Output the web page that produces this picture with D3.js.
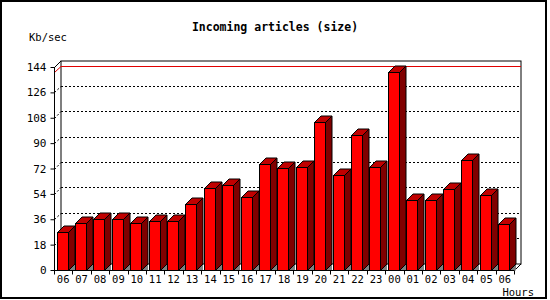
<!DOCTYPE html>
<html>
<head>
<meta charset="utf-8">
<script src="https://cdn.jsdelivr.net/npm/d3@7"></script>
<style>
  body { margin: 0; background: #fff; }
  text { font-family: 'DejaVu Sans Mono', monospace; fill: #000; }
</style>
</head>
<body>
<div id="svg-container"></div>
<script>
// Data
var hours = ['06', '07', '08', '09', '10', '11', '12', '13', '14', '15', '16', '17', '18',
  '19', '20', '21', '22', '23', '00', '01', '02', '03', '04', '05', '06b']
var kbsec = [26.7, 33.1, 36, 36, 33.1, 34.5, 34.5, 46.6, 57.9, 60.1, 51.6, 75, 72.1,
  72.8, 104.7, 67.2, 95.7, 72.8, 140.4, 49.4, 49.4, 57.2, 77.8, 53, 32.4]
var yTicks = [0, 18, 36, 54, 72, 90, 108, 126, 144]

var svgWidth = 550, svgHeight = 300
var plotLeft = 54, plotRight = 514, plotBottom = 270, plotTop = 67
var depth = 6.5

var svg = d3.select('#svg-container').append('svg')
  .attr('width', svgWidth)
  .attr('height', svgHeight)

// outer frame
svg.append('rect')
  .attr('x', 1).attr('y', 1).attr('width', 545).attr('height', 297)
  .attr('fill', 'none').attr('stroke', '#000').attr('stroke-width', 2)

var x = d3.scaleBand().domain(hours).range([plotLeft, plotRight]).padding(0)
var y = d3.scaleLinear().domain([0, 144]).range([plotBottom, plotTop])

// back wall
var g = svg.append('g').attr('transform', 'translate(0.5,0.5)')
g.append('rect')
  .attr('x', plotLeft + depth).attr('y', plotTop - depth)
  .attr('width', plotRight - plotLeft).attr('height', plotBottom - plotTop)
  .attr('fill', '#fff').attr('stroke', '#000')

// dotted grid lines on the back wall
var grid = yTicks.filter(v => v > 0 && v < 144)
g.selectAll('.grid').data(grid).join('line')
  .attr('x1', plotLeft + depth).attr('x2', plotRight + depth)
  .attr('y1', d => Math.round(y(d) - depth)).attr('y2', d => Math.round(y(d) - depth))
  .attr('stroke', '#000').attr('stroke-dasharray', '2,2')
g.selectAll('.gdiag').data(grid).join('line')
  .attr('x1', plotLeft).attr('x2', plotLeft + depth)
  .attr('y1', d => Math.round(y(d))).attr('y2', d => Math.round(y(d) - depth))
  .attr('stroke', '#000').attr('stroke-dasharray', '2,2')

// max value line
var maxV = d3.max(kbsec)
g.append('line')
  .attr('x1', plotLeft + depth).attr('x2', plotRight + depth)
  .attr('y1', Math.round(y(maxV) - depth)).attr('y2', Math.round(y(maxV) - depth))
  .attr('stroke', '#e00000')
g.append('line')
  .attr('x1', plotLeft).attr('x2', plotLeft + depth)
  .attr('y1', Math.round(y(maxV))).attr('y2', Math.round(y(maxV) - depth))
  .attr('stroke', '#e00000')

// front edges
g.append('path')
  .attr('d', `M${plotLeft},${plotTop}L${plotLeft + depth},${plotTop - depth}`)
  .attr('stroke', '#000').attr('fill', 'none')
g.append('path')
  .attr('d', `M${plotRight},${plotBottom}L${plotRight + depth},${plotBottom - depth}`)
  .attr('stroke', '#000').attr('fill', 'none')

// bars
var bw = 11, off = 2.5
var bars = g.selectAll('.bar').data(kbsec).join('g')
bars.append('path') // floor shadow
  .attr('d', (d, i) => {
    var x1 = Math.round(x(hours[i]) + off + bw)
    return `M${x1},${plotBottom}L${x1 + depth},${plotBottom - depth}L${x1 + depth},${plotBottom}Z`
  })
  .attr('fill', '#808080')
bars.append('path') // side
  .attr('d', (d, i) => {
    var x1 = Math.round(x(hours[i]) + off + bw), yt = Math.round(y(d))
    return `M${x1},${plotBottom}L${x1},${yt}L${x1 + depth},${yt - depth}L${x1 + depth},${plotBottom - depth}Z`
  })
  .attr('fill', '#800000').attr('stroke', '#000')
bars.append('path') // top
  .attr('d', (d, i) => {
    var x0 = Math.round(x(hours[i]) + off), yt = Math.round(y(d))
    return `M${x0},${yt}L${x0 + depth},${yt - depth}L${x0 + bw + depth},${yt - depth}L${x0 + bw},${yt}Z`
  })
  .attr('fill', '#c00000').attr('stroke', '#000')
bars.append('rect') // front
  .attr('x', (d, i) => Math.round(x(hours[i]) + off))
  .attr('y', d => Math.round(y(d)))
  .attr('width', bw)
  .attr('height', d => plotBottom - Math.round(y(d)))
  .attr('fill', '#ff0000').attr('stroke', '#000')

// axes
var yAxis = d3.axisLeft(y).tickValues(yTicks).tickSize(4).tickPadding(4)
svg.append('g')
  .attr('transform', `translate(${plotLeft + 0.5},0)`)
  .call(yAxis)
  .call(a => a.select('.domain').attr('d', `M0,${plotTop}V${plotBottom}`))
  .call(a => a.selectAll('text').style('font-size', '11px').attr('fill', '#000'))

var xAxis = d3.axisBottom(x).tickSize(0).tickPadding(5)
  .tickFormat(d => d.slice(0, 2))
var xg = svg.append('g')
  .attr('transform', `translate(0,${plotBottom + 0.5})`)
  .call(xAxis)
xg.select('.domain').attr('d', `M${plotLeft},0H${plotRight}`)
xg.selectAll('text').style('font-size', '10.5px').attr('fill', '#000')
xg.selectAll('.sep').data(d3.range(hours.length + 1)).join('line')
  .attr('x1', i => Math.round(plotLeft + i * x.bandwidth()) + 0.5)
  .attr('x2', i => Math.round(plotLeft + i * x.bandwidth()) + 0.5)
  .attr('y1', 0).attr('y2', 4)
  .attr('stroke', '#000')

// labels
svg.append('text')
  .attr('x', 275).attr('y', 31)
  .attr('text-anchor', 'middle')
  .attr('fill', '#000')
  .style('font-size', '11.5px').style('font-weight', 'bold')
  .text('Incoming articles (size)')
svg.append('text')
  .attr('x', 29).attr('y', 41)
  .attr('fill', '#000')
  .style('font-size', '10.5px')
  .text('Kb/sec')
svg.append('text')
  .attr('x', 534).attr('y', 296)
  .attr('text-anchor', 'end')
  .attr('fill', '#000')
  .style('font-size', '10.5px')
  .text('Hours')
</script>
</body>
</html>
